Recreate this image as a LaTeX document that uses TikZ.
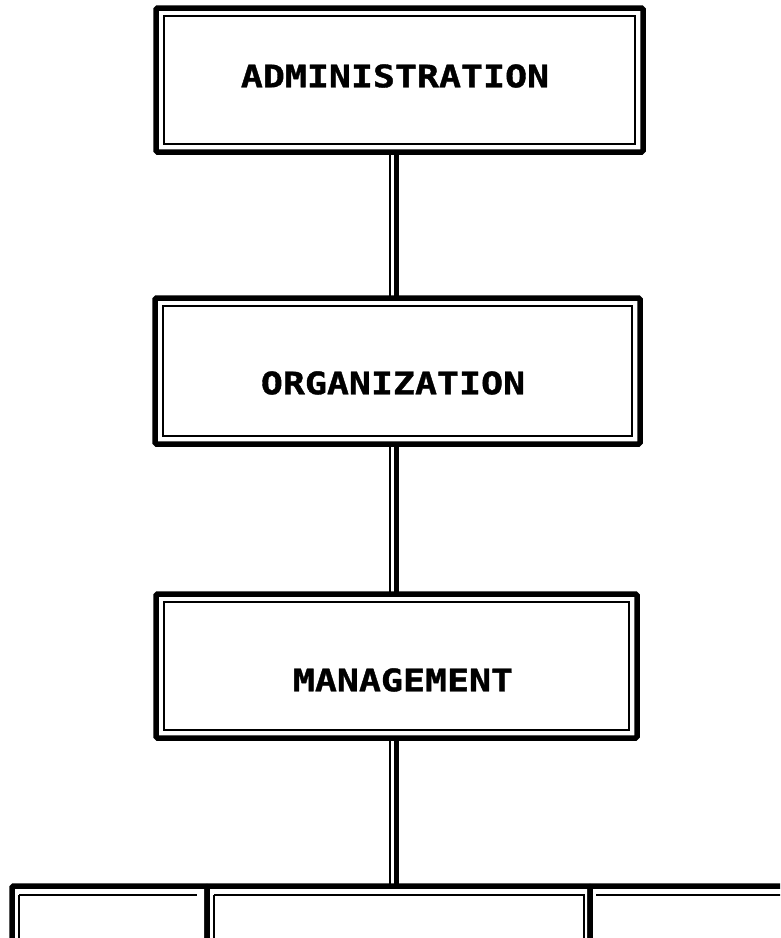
\documentclass[tikz,border=0pt]{standalone}
\usepackage{fontspec}
\newfontfamily\plotfont[FakeStretch=1.18, FakeBold=1.2]{DejaVu Sans Mono}
\begin{document}
\begin{tikzpicture}[x=1pt,y=-1pt,
  obox/.style={draw, line width=5.5pt, rounded corners=1.5pt, inner sep=0pt, outer sep=0pt},
  ibox/.style={line width=2.6pt},
  lab/.style={font=\plotfont\bfseries\fontsize{31}{31}\selectfont, inner sep=0pt},
  thk/.style={line width=5pt},
  thn/.style={line width=2.6pt}]
\useasboundingbox (0,0) rectangle (780,938);
\clip (0,0) rectangle (780,938);
% main boxes
\node[obox, minimum width=487pt, minimum height=144pt] (b1) at (399.5,80) {};
\node[obox, minimum width=485pt, minimum height=146pt] (b2) at (397.5,371) {};
\node[obox, minimum width=481pt, minimum height=144pt] (b3) at (396.5,666) {};
\foreach \b in {b1,b2,b3}
  \draw[ibox] ([shift={(8,8)}]\b.north west) rectangle ([shift={(-8,-8)}]\b.south east);
% labels
\node[lab] (t1) at (395,76) {ADMINISTRATION};
\node[lab] (t2) at (393,383) {ORGANIZATION};
\node[lab] (t3) at (403,680) {MANAGEMENT};
% connector guides
\coordinate (cx) at (396,0);
\coordinate (cy) at (390,0);
\coordinate (bar) at (394,886);
% connectors
\draw[thk] (b1.south -| cx) -- (b2.north -| cx);
\draw[thn] (b1.south -| cy) -- (b2.north -| cy);
\draw[thk] (b2.south -| cx) -- (b3.north -| cx);
\draw[thn] (b2.south -| cy) -- (b3.north -| cy);
\draw[thk] (b3.south -| cx) -- (bar -| cx);
\draw[thn] (b3.south -| cy) -- (bar -| cy);
% bottom row boxes (cut off by the page edge)
\node[obox, minimum width=195pt, minimum height=120pt] (c1) at (109.5,946) {};
\node[obox, minimum width=383pt, minimum height=120pt] (c2) at (398.5,946) {};
\node[obox, minimum width=260pt, minimum height=120pt] (c3) at (720,946) {};
\draw[ibox] ([shift={(7,9)}]c1.north west) -- ([shift={(-10,9)}]c1.north east);
\draw[ibox] ([shift={(7,9)}]c1.north west) -- ([shift={(7,0)}]c1.south west);
\draw[ibox] ([shift={(7,9)}]c2.north west) -- ([shift={(-6,9)}]c2.north east) -- ([shift={(-6,0)}]c2.south east);
\draw[ibox] ([shift={(7,9)}]c2.north west) -- ([shift={(7,0)}]c2.south west);
\draw[ibox] ([shift={(6,9)}]c3.north west) -- ([shift={(0,9)}]c3.north east);
\end{tikzpicture}
\end{document}
